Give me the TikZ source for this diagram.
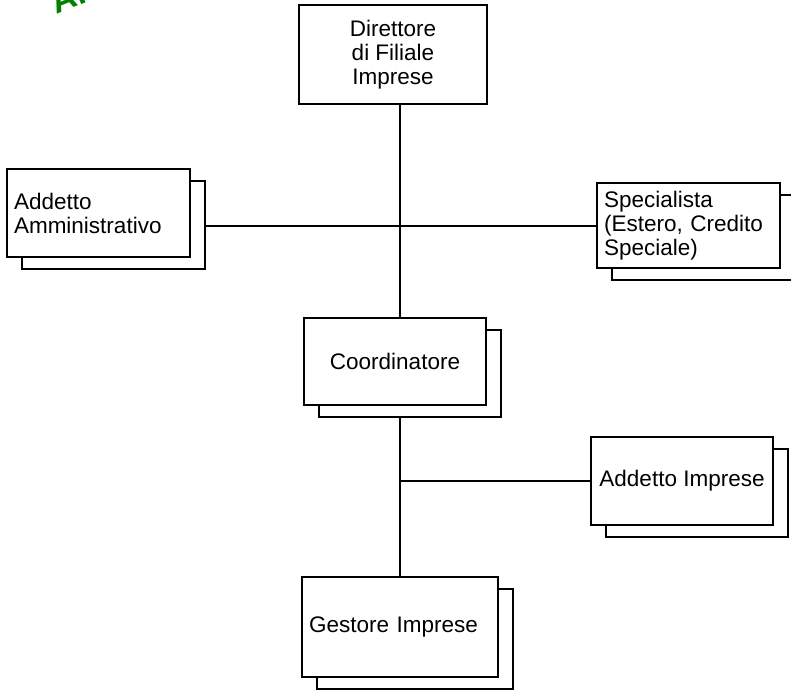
\documentclass[tikz,border=0pt]{standalone}
\usepackage{fontspec}
\setmainfont{Liberation Sans}
\usepackage{tikz}
\usetikzlibrary{shadows,backgrounds,calc}
\definecolor{stampgreen}{RGB}{0,130,0}
\tikzset{
    block/.style = {draw, rectangle, fill=white, line width=1pt,
        inner xsep=3.5pt, inner ysep=2pt},
    stack/.style = {block, general shadow={shadow xshift=7.25pt,
        shadow yshift=-6pt, fill=white, draw=black, line width=1pt}},
    lefttext/.style = {align=left, text width=#1},
    line/.style = {draw, line width=1pt},
    stamp/.style = {font=\bfseries\fontsize{17}{17}\selectfont, text=stampgreen}
}

\begin{document}
\begin{tikzpicture}[x=0.5pt, y=-0.5pt, every node/.style={font=\fontsize{11.25}{12}\selectfont}]
    \useasboundingbox (0,0) rectangle (791,692);
    \node [stamp, rotate=22, anchor=base west] (stamp) at (50,17) {Ar};
    \node [block, minimum width=94pt, minimum height=49.5pt, align=center] (dir) at (393,54.5) {Direttore\\di Filiale\\Imprese};
    \node [stack, minimum width=91.5pt, minimum height=44pt, lefttext=84.5pt] (addamm) at (98.5,213) {Addetto\\Amministrativo};
    \node [stack, minimum width=91.5pt, minimum height=42.5pt, lefttext=84.5pt] (spec) at (688.5,225.5) {Specialista\\(Estero, Credito\\Speciale)};
    \node [stack, minimum width=91pt, minimum height=43.5pt, align=center] (coord) at (395,361.5) {Coordinatore};
    \node [stack, minimum width=91pt, minimum height=44pt, align=center] (addimp) at (682,481) {Addetto Imprese};
    \node [stack, minimum width=98pt, minimum height=50pt, lefttext=91pt] (gest) at (400,627) {Gestore Imprese};
    \begin{scope}[on background layer]
        \draw [line] (dir.south -| gest.north) -- (coord.north -| gest.north);
        \draw [line] (addamm.east |- spec.west) -- (spec.west);
        \draw [line] (coord.south -| gest.north) -- (gest.north);
        \draw [line] (addimp.west -| gest.north) -- (addimp.west);
    \end{scope}
\end{tikzpicture}
\end{document}
